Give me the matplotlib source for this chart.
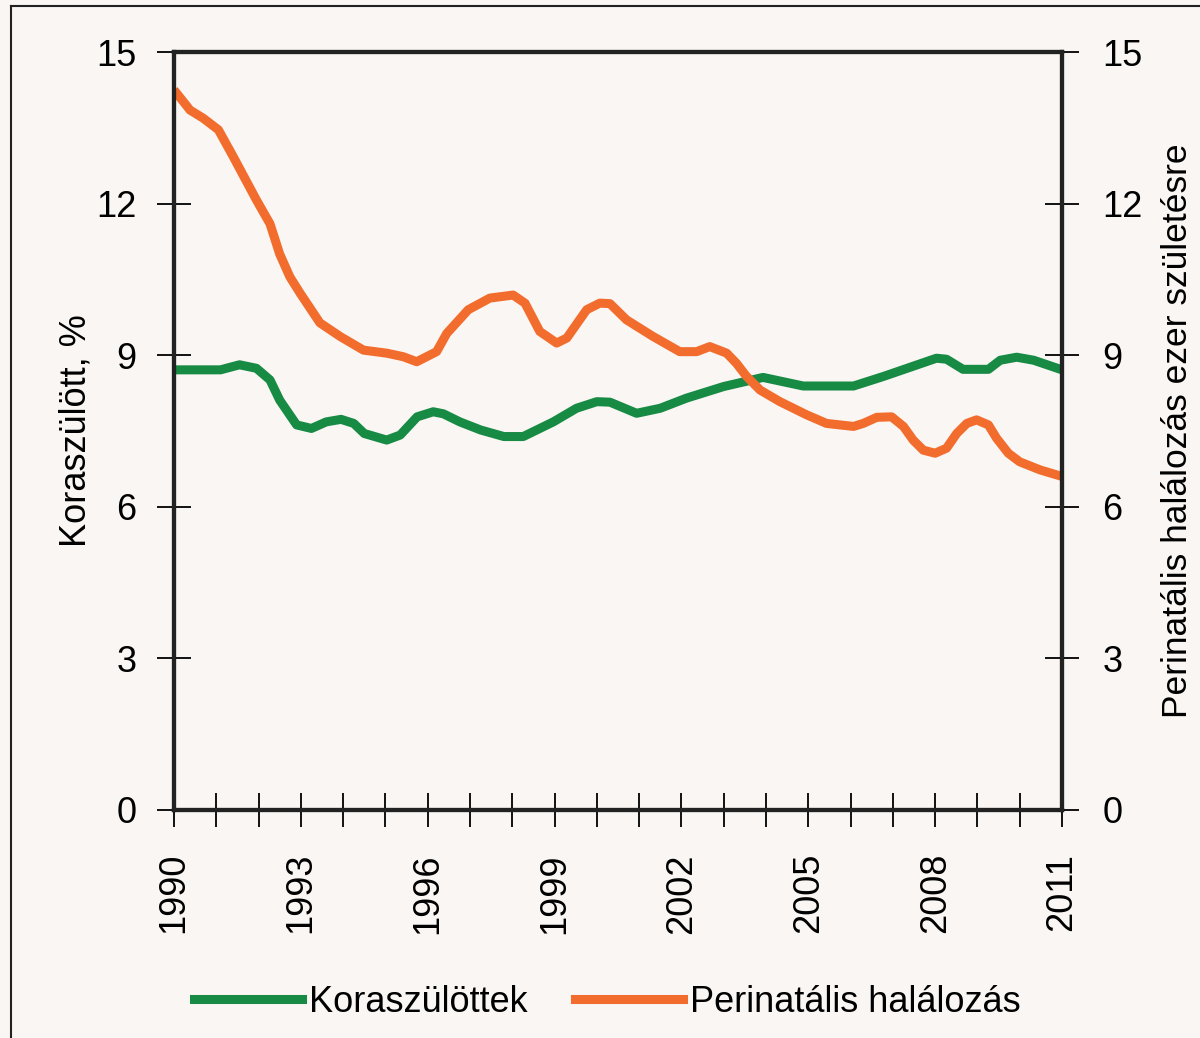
import matplotlib
matplotlib.use("Agg")
import matplotlib.pyplot as plt
from matplotlib.lines import Line2D

plt.rcParams['font.family'] = ['Liberation Sans', 'DejaVu Sans']

# Koraszülöttek (%)
kora_ev = [1990.0, 1991.1, 1991.55, 1991.95, 1992.27, 1992.5, 1992.9, 1993.25, 1993.6,
           1993.95, 1994.25, 1994.5, 1995.03, 1995.35, 1995.75, 1996.13, 1996.37, 1996.76,
           1997.25, 1997.8, 1998.26, 1998.97, 1999.52, 2000.0, 2000.31, 2000.94, 2001.5,
           2002.12, 2003.0, 2003.93, 2004.88, 2006.07, 2006.78, 2008.03, 2008.27, 2008.66,
           2009.26, 2009.54, 2009.93, 2010.33, 2011.0]
kora = [8.71, 8.71, 8.81, 8.74, 8.51, 8.11, 7.62, 7.55, 7.68,
        7.73, 7.65, 7.45, 7.32, 7.42, 7.78, 7.88, 7.84, 7.68,
        7.52, 7.39, 7.39, 7.68, 7.95, 8.08, 8.07, 7.85, 7.95,
        8.15, 8.38, 8.56, 8.39, 8.39, 8.58, 8.94, 8.92, 8.72,
        8.72, 8.90, 8.96, 8.90, 8.71]

# Perinatális halálozás (ezer születésre)
peri_ev = [1990.0, 1990.38, 1990.69, 1991.05, 1991.4, 1991.95, 1992.27, 1992.5, 1992.74,
           1992.98, 1993.45, 1993.93, 1994.48, 1995.03, 1995.42, 1995.74, 1996.21, 1996.45,
           1996.96, 1997.47, 1998.02, 1998.3, 1998.65, 1999.05, 1999.29, 1999.76, 2000.07,
           2000.31, 2000.7, 2001.33, 2001.96, 2002.36, 2002.67, 2003.07, 2003.3, 2003.54,
           2003.86, 2004.33, 2004.96, 2005.43, 2006.07, 2006.3, 2006.62, 2006.97, 2007.25,
           2007.48, 2007.72, 2008.0, 2008.27, 2008.51, 2008.75, 2008.98, 2009.26, 2009.45,
           2009.73, 2010.0, 2010.48, 2011.0]
peri = [14.25, 13.85, 13.69, 13.46, 12.93, 12.07, 11.6, 11.0, 10.55,
        10.23, 9.64, 9.37, 9.1, 9.04, 8.97, 8.87, 9.07, 9.43,
        9.9, 10.13, 10.19, 10.03, 9.47, 9.24, 9.34, 9.9, 10.03,
        10.02, 9.7, 9.37, 9.07, 9.07, 9.17, 9.04, 8.84, 8.58,
        8.31, 8.08, 7.82, 7.65, 7.59, 7.65, 7.77, 7.78, 7.59,
        7.32, 7.12, 7.06, 7.16, 7.45, 7.65, 7.72, 7.62, 7.36,
        7.06, 6.89, 6.73, 6.6]

evek = list(range(1990, 2012))
cimkek = [str(e) if (e - 1990) % 3 == 0 else '' for e in evek]
yticks = [0, 3, 6, 9, 12, 15]

zold = '#178a44'
narancs = '#f26d2d'
hatter = '#f9f6f3'
fs = 26

fig = plt.figure(figsize=(12, 10.38), dpi=100, facecolor=hatter)
ax = fig.add_axes([0.145, 0.2197, 0.74, 0.7302])
ax.set_facecolor(hatter)

ax.plot(kora_ev, kora, color=zold, lw=6.5, solid_capstyle='butt', solid_joinstyle='round')
ax.plot(peri_ev, peri, color=narancs, lw=6.5, solid_capstyle='butt', solid_joinstyle='round')

ax.set_xlim(1990, 2011)
ax.set_ylim(0, 15)
ax.set_xticks(evek)
ax.set_xticklabels(cimkek, rotation=90)
ax.set_yticks(yticks)

for s in ax.spines.values():
    s.set_linewidth(3)
    s.set_color('#222222')

ax.tick_params(axis='x', direction='inout', length=24, width=1.3, pad=19, labelsize=fs)
ax.tick_params(axis='y', direction='inout', length=24, width=1.3, pad=15, labelsize=fs)
ax.set_ylabel('Koraszülött, %', fontsize=fs)
ax.yaxis.set_label_coords(-0.091, 0.5)

ax2 = ax.twinx()
ax2.set_ylim(0, 15)
ax2.set_yticks(yticks)
ax2.tick_params(axis='y', direction='inout', length=24, width=1.3, pad=17, labelsize=fs)
for s in ax2.spines.values():
    s.set_linewidth(3)
    s.set_color('#222222')
ax2.set_ylabel('Perinatális halálozás ezer születésre', fontsize=25.5)
ax2.yaxis.set_label_coords(1.111, 0.5)

kezelok = [Line2D([], [], color=zold, lw=6.5), Line2D([], [], color=narancs, lw=6.5)]
fig.legend(kezelok, ['Koraszülöttek', 'Perinatális halálozás'], loc='center',
           bbox_to_anchor=(0.506, 1 - 1002 / 1038), ncol=2, frameon=False, fontsize=fs,
           handlelength=3.0, handletextpad=0.2, columnspacing=1.3)

# keret a kép bal és felső szélén
fig.add_artist(Line2D([11 / 1200, 11 / 1200], [0, 1 - 6 / 1038], color='#222222', lw=1.5,
                      transform=fig.transFigure))
fig.add_artist(Line2D([11 / 1200, 1], [1 - 6 / 1038, 1 - 6 / 1038], color='#222222', lw=1.5,
                      transform=fig.transFigure))

fig.savefig('out.png', dpi=100, facecolor=hatter)
